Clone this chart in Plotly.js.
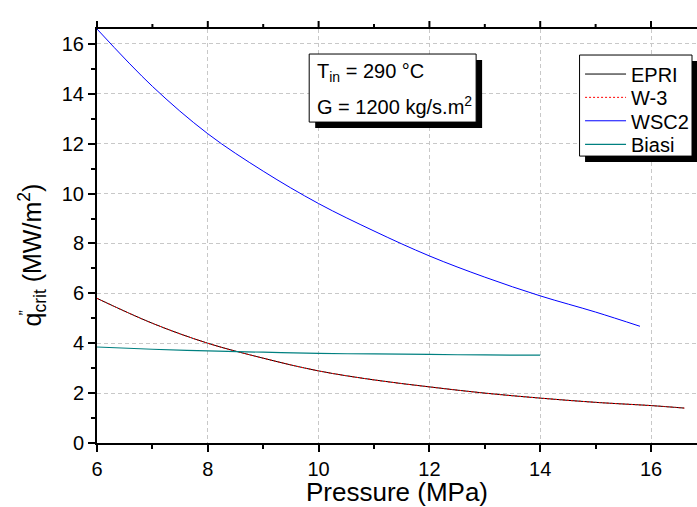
<!DOCTYPE html>
<html>
<head>
<meta charset="utf-8">
<script src="https://cdn.plot.ly/plotly-3.0.1.min.js"></script>
<style>html,body{margin:0;padding:0;background:#fff;}#chart{width:697px;height:507px;}</style>
</head>
<body>
<div id="chart"></div>
<script>
// Data
const epriP   = [6, 7, 8, 9, 10, 11, 12, 13, 14, 15, 16, 16.6];
const epriQ   = [5.8, 4.8, 4.0, 3.4, 2.89, 2.53, 2.25, 2.0, 1.8, 1.63, 1.5, 1.40];
const w3P     = [6, 7, 8, 9, 10, 11, 12, 13, 14, 15, 16, 16.6];
const w3Q     = [5.8, 4.8, 4.0, 3.4, 2.89, 2.53, 2.25, 2.0, 1.8, 1.63, 1.5, 1.40];
const wsc2P   = [6, 7, 8, 9, 10, 11, 12, 13, 14, 15, 15.8];
const wsc2Q   = [16.6, 14.3, 12.4, 10.9, 9.6, 8.5, 7.5, 6.65, 5.9, 5.25, 4.68];
const biasiP  = [6, 7, 8, 9, 10, 11, 12, 13, 14];
const biasiQ  = [3.85, 3.76, 3.69, 3.64, 3.59, 3.57, 3.55, 3.53, 3.52];
const xTicks  = [6, 8, 10, 12, 14, 16];
const yTicks  = [0, 2, 4, 6, 8, 10, 12, 14, 16];
const seriesNames = ['EPRI', 'W-3', 'WSC2', 'Biasi'];

const FONT = 'Liberation Sans, Arial, sans-serif';
const styles = [
  {color: '#000000', width: 1},
  {color: '#ff0000', width: 1, dash: '2px,2px'},
  {color: '#0000ff', width: 1},
  {color: '#008080', width: 1.2}
];
const xs = [epriP, w3P, wsc2P, biasiP];
const ys = [epriQ, w3Q, wsc2Q, biasiQ];
const X_RANGE = [6, 16.83];

const traces = seriesNames.map((n, i) => ({
  x: xs[i], y: ys[i], name: n, mode: 'lines', showlegend: false,
  line: Object.assign({shape: 'spline'}, styles[i])
}));

// pixel -> paper helpers for decorations (plot area: x 96.7..697, y 29..442.7)
const PLOT_H = 413.7;
const px = v => (v - 96.7) / 600.3;
const py = v => (442.7 - v) / PLOT_H;
const xToPaper = v => (v - X_RANGE[0]) / (X_RANGE[1] - X_RANGE[0]);

const axisCommon = {
  showline: true, linecolor: '#000', linewidth: 2,
  ticks: 'outside', ticklen: 7, tickwidth: 2, tickcolor: '#000',
  showgrid: true, gridcolor: '#c8c8c8', gridwidth: 1, griddash: '4px,3px',
  zeroline: false,
  tickfont: {family: FONT, size: 20, color: '#000'},
  minor: {ticks: 'outside', ticklen: 4, tickwidth: 2, tickcolor: '#000', showgrid: false, dtick: 1}
};

const shapes = [
  // legend shadow + box
  {type: 'rect', xref: 'paper', yref: 'paper', x0: px(585), x1: px(698), y0: py(162), y1: py(61),
   fillcolor: '#000', line: {width: 0}, layer: 'above'},
  {type: 'rect', xref: 'paper', yref: 'paper', x0: px(579.5), x1: px(692), y0: py(156), y1: py(55),
   fillcolor: '#fff', line: {color: '#000', width: 1}, layer: 'above'},
  // text box shadow + box
  {type: 'rect', xref: 'paper', yref: 'paper', x0: px(315), x1: px(482), y0: py(128), y1: py(60),
   fillcolor: '#000', line: {width: 0}, layer: 'above'},
  {type: 'rect', xref: 'paper', yref: 'paper', x0: px(309), x1: px(476), y0: py(122), y1: py(54),
   fillcolor: '#fff', line: {color: '#000', width: 1}, layer: 'above'},
  // top frame line (mirror of the x axis)
  {type: 'line', xref: 'paper', yref: 'paper', x0: -2 / 600.3, x1: 1, y0: 1 + 1 / PLOT_H, y1: 1 + 1 / PLOT_H,
   line: {color: '#000', width: 2}, layer: 'above'}
];
// top mirror ticks, from the tick array (major) and their midpoints (minor)
xTicks.forEach((t, i) => {
  shapes.push({type: 'line', xref: 'paper', yref: 'paper', x0: xToPaper(t), x1: xToPaper(t),
    y0: 1, y1: 1 + 8 / PLOT_H, line: {color: '#000', width: 2}, layer: 'above'});
  if (i < xTicks.length - 1) {
    const m = (t + xTicks[i + 1]) / 2;
    shapes.push({type: 'line', xref: 'paper', yref: 'paper', x0: xToPaper(m), x1: xToPaper(m),
      y0: 1, y1: 1 + 5 / PLOT_H, line: {color: '#000', width: 2}, layer: 'above'});
  }
});

const legendRows = [74, 97.3, 120.7, 144.3];
const annotations = [
  {xref: 'paper', yref: 'paper', x: px(315), y: py(72), xanchor: 'left', yanchor: 'middle',
   text: 'T<sub>in</sub> = 290 °C', showarrow: false, font: {family: FONT, size: 20, color: '#000'}},
  {xref: 'paper', yref: 'paper', x: px(315), y: py(105), xanchor: 'left', yanchor: 'middle',
   text: 'G = 1200 kg/s.m<sup>2</sup>', showarrow: false, font: {family: FONT, size: 20, color: '#000'}},
  {xref: 'paper', yref: 'paper', x: px(32), y: py(255), xanchor: 'center', yanchor: 'middle',
   text: 'q<sub>crit</sub> (MW/m<sup>2</sup>)', textangle: -90, showarrow: false,
   font: {family: FONT, size: 25, color: '#000'}},
  {xref: 'paper', yref: 'paper', x: px(25), y: py(313), xanchor: 'center', yanchor: 'middle',
   text: '&#8221;', textangle: -90, showarrow: false,
   font: {family: FONT, size: 16, color: '#000'}}
];
seriesNames.forEach((n, i) => {
  shapes.push({type: 'line', xref: 'paper', yref: 'paper', x0: px(585), x1: px(626),
    y0: py(legendRows[i]), y1: py(legendRows[i]), layer: 'above',
    line: {color: styles[i].color, width: styles[i].width, dash: styles[i].dash || 'solid'}});
  annotations.push({xref: 'paper', yref: 'paper', x: px(629), y: py(legendRows[i] + 1),
    xanchor: 'left', yanchor: 'middle', text: n, showarrow: false,
    font: {family: FONT, size: 20, color: '#000'}});
});

const layout = {
  width: 697, height: 507,
  margin: {l: 97, r: 0, t: 29, b: 64},
  paper_bgcolor: '#fff', plot_bgcolor: '#fff',
  showlegend: false,
  font: {family: FONT, color: '#000'},
  xaxis: Object.assign({}, axisCommon, {
    range: X_RANGE, tickvals: xTicks,
    title: {text: 'Pressure (MPa)', font: {family: FONT, size: 26, color: '#000'}, standoff: 2}
  }),
  yaxis: Object.assign({}, axisCommon, {
    range: [0, 16.6], tickvals: yTicks
  }),
  shapes: shapes,
  annotations: annotations
};

Plotly.newPlot('chart', traces, layout, {displayModeBar: false, staticPlot: true});
</script>
</body>
</html>
